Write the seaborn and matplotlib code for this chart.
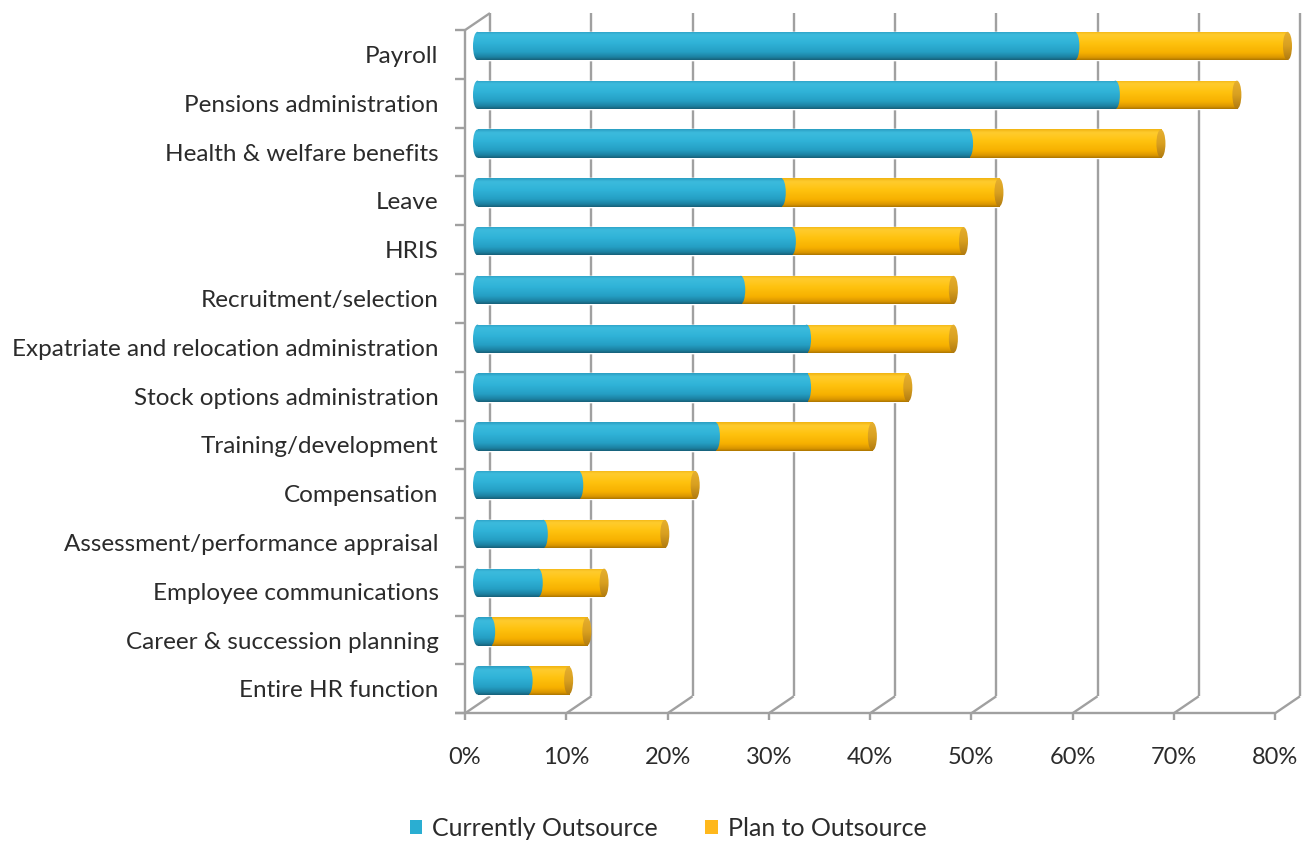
import numpy as np
import pandas as pd
import seaborn as sns
import matplotlib.pyplot as plt
from matplotlib.patches import Ellipse, Patch
from matplotlib.colors import LinearSegmentedColormap

# ---- data -------------------------------------------------------------
categories = [
    "Payroll",
    "Pensions administration",
    "Health & welfare benefits",
    "Leave",
    "HRIS",
    "Recruitment/selection",
    "Expatriate and relocation administration",
    "Stock options administration",
    "Training/development",
    "Compensation",
    "Assessment/performance appraisal",
    "Employee communications",
    "Career & succession planning",
    "Entire HR function",
]
currently_outsource = [59, 63, 48.5, 30, 31, 26, 32.5, 32.5, 23.5, 10, 6.5, 6, 1.3, 5]
plan_to_outsource = [21, 12, 19, 21.5, 17, 21, 14.5, 10, 15.5, 11.5, 12, 6.5, 9.5, 4]
tick_values = [0, 10, 20, 30, 40, 50, 60, 70, 80]
series_names = ["Currently Outsource", "Plan to Outsource"]

df = pd.DataFrame({
    "category": categories,
    "current": currently_outsource,
    "plan": plan_to_outsource,
})
df["total"] = df["current"] + df["plan"]

# ---- style ------------------------------------------------------------
sns.set_theme(style="white")
plt.rcParams["font.family"] = ["Lato", "DejaVu Sans"]
TEXT = "#2b2b2b"
GRID = "#a0a0a0"
BLUE = "#2aaed2"
ORANGE = "#ffc000"

blue_cmap = LinearSegmentedColormap.from_list("cyl_blue", [
    (0.00, "#2a9cc0"), (0.12, "#3cbbdd"), (0.40, "#30b3d8"),
    (0.72, "#259fc4"), (0.90, "#1c81a1"), (1.00, "#175e76")])
orange_cmap = LinearSegmentedColormap.from_list("cyl_orange", [
    (0.00, "#f0b210"), (0.12, "#ffcc2e"), (0.42, "#ffc20e"),
    (0.75, "#f6b000"), (0.92, "#d89400"), (1.00, "#a87200")])
face_cmap = LinearSegmentedColormap.from_list("cyl_face", [
    (0.00, "#e6b030"), (0.5, "#d9a020"), (1.00, "#b07a10")])

# ---- geometry of the pseudo-3D box (data units) -----------------------
n = len(categories)
px_per_pct = 10.125          # horizontal scale
px_per_row = 48.8            # vertical scale
half_dx = 12.5 / px_per_pct  # half depth offset, x
half_dy = 8.5 / px_per_row   # half depth offset, y
bar_h = 0.58
cap_w = 9.0 / px_per_pct

front_bottom = n - 0.5 + half_dy
front_top = -0.5 + half_dy
back_bottom = n - 0.5 - half_dy
back_top = -0.5 - half_dy

x_left = -half_dx
x_right = 82.0
y_top = -0.72

W, H = 1310, 843
fig = plt.figure(figsize=(W / 100, H / 100), dpi=100)
ax_left_px = 477.5 + px_per_pct * x_left
ax_right_px = 477.5 + px_per_pct * x_right
ax_top_px = 46 + px_per_row * y_top
ax_bot_px = 46 + px_per_row * front_bottom
ax = fig.add_axes([ax_left_px / W, 1 - ax_bot_px / H,
                   (ax_right_px - ax_left_px) / W, (ax_bot_px - ax_top_px) / H])

# ---- bars: totals (orange) underneath, current share (blue) on top ----
sns.barplot(data=df, y="category", x="total", color=ORANGE, width=bar_h,
            saturation=1, errorbar=None, orient="h", ax=ax, zorder=2)
sns.barplot(data=df, y="category", x="current", color=BLUE, width=bar_h,
            saturation=1, errorbar=None, orient="h", ax=ax, zorder=2)

grad = np.linspace(0, 1, 256).reshape(-1, 1)


def shade(clip, cmap, x0, x1, yc, z):
    """Fill a shape with a vertical cylinder-like gradient (light on top)."""
    im = ax.imshow(grad, cmap=cmap, aspect="auto", interpolation="bicubic",
                   extent=[x0, x1, yc + bar_h / 2, yc - bar_h / 2],
                   origin="upper", zorder=z)
    im.set_clip_path(clip)


rects = list(ax.patches)
orange_rects, blue_rects = rects[:n], rects[n:]

for i, r in enumerate(orange_rects):
    tot = df["total"].iloc[i]
    shade(r, orange_cmap, -1, tot + 1, i, 3)
    face = Ellipse((tot, i), cap_w, bar_h, facecolor="none", edgecolor="none")
    ax.add_patch(face)
    shade(face, face_cmap, tot - cap_w, tot + cap_w, i, 3.5)

for i, r in enumerate(blue_rects):
    cur = df["current"].iloc[i]
    shade(r, blue_cmap, -1, cur + 1, i, 4)
    for xc in (0.0, cur):
        ell = Ellipse((xc, i), cap_w, bar_h, facecolor="none", edgecolor="none")
        ax.add_patch(ell)
        shade(ell, blue_cmap, xc - cap_w, xc + cap_w, i, 4.5)

# ---- box frame: back-wall gridlines, floor, left wall -----------------
lw = 1.7
line_kw = dict(color=GRID, lw=lw, clip_on=False, solid_capstyle="butt")
for t in tick_values:
    ax.plot([t + half_dx, t + half_dx], [back_bottom, back_top], zorder=1, **line_kw)
    ax.plot([t - half_dx, t + half_dx], [front_bottom, back_bottom], zorder=1, **line_kw)
    ax.plot([t - half_dx, t - half_dx], [front_bottom, front_bottom + 7 / px_per_row],
            zorder=1, **line_kw)

tick_x0 = x_left - 10 / px_per_pct
ax.plot([tick_x0, 80 - half_dx], [front_bottom, front_bottom], zorder=1, **line_kw)
ax.plot([x_left, x_left], [front_bottom, front_top], zorder=5, **line_kw)
ax.plot([x_left, half_dx], [front_top, back_top], zorder=1, **line_kw)
for k in range(n + 1):
    yk = k - 0.5 + half_dy
    ax.plot([tick_x0, x_left], [yk, yk], zorder=1, **line_kw)

# ---- axes cosmetics ----------------------------------------------------
ax.set_xlim(x_left, x_right)
ax.set_ylim(front_bottom, y_top)
ax.set_xlabel("")
ax.set_ylabel("")
for s in ax.spines.values():
    s.set_visible(False)
ax.grid(False)
ax.set_facecolor("none")

ax.set_yticks([i + half_dy for i in range(n)])
ax.set_yticklabels(categories, fontsize=17.5, color=TEXT)
ax.set_xticks([t - half_dx for t in tick_values])
ax.set_xticklabels([f"{t}%" for t in tick_values], fontsize=17, color=TEXT)
ax.tick_params(axis="y", length=0, pad=19)
ax.tick_params(axis="x", length=0, pad=24)

handles = [Patch(facecolor=BLUE, edgecolor="none"),
           Patch(facecolor="#ffb81c", edgecolor="none")]
leg = fig.legend(handles, series_names, loc="center",
                 bbox_to_anchor=(668 / W, 15 / H), ncol=2, frameon=False,
                 fontsize=18, handlelength=0.5, handleheight=0.5,
                 handletextpad=0.4, columnspacing=1.9)
for txt in leg.get_texts():
    txt.set_color(TEXT)

fig.savefig("out.png", dpi=100, facecolor="white")
